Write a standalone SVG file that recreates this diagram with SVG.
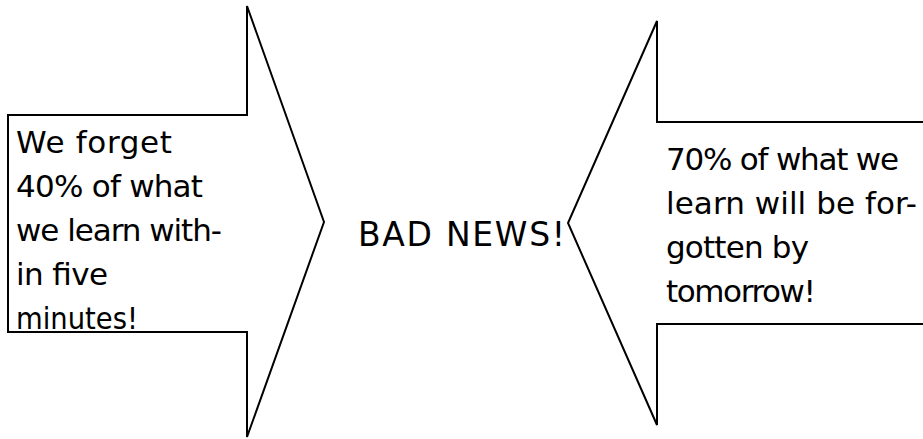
<svg xmlns="http://www.w3.org/2000/svg" width="923" height="439" viewBox="0 0 923 439">
<style>
.arrow{fill:#ffffff;stroke:#000000;stroke-width:2;stroke-linejoin:miter}
.t{font-family:"DejaVu Sans","Liberation Sans",sans-serif;font-size:31px;fill:#000000}
.big{font-size:33px}
</style>
<rect x="0" y="0" width="923" height="439" fill="#ffffff"/>
<g id="left-arrow">
<polygon class="arrow" points="8,115 247,115 247,6 324,222 247,437 247,332 8,332"/>
<text class="t" x="16" y="153" textLength="156">We forget</text>
<text class="t" x="16" y="197" textLength="187">40% of what</text>
<text class="t" x="16" y="241" textLength="206">we learn with-</text>
<text class="t" x="16" y="285" textLength="92">in five</text>
<text class="t" x="16" y="329" textLength="122" lengthAdjust="spacingAndGlyphs">minutes!</text>
</g>
<g id="right-arrow">
<polygon class="arrow" points="930,122 657,122 657,21 568,223 657,425 657,324 930,324"/>
<text class="t" x="666" y="170" textLength="233">70% of what we</text>
<text class="t" x="666" y="214" textLength="251">learn will be for-</text>
<text class="t" x="666" y="258" textLength="143">gotten by</text>
<text class="t" x="666" y="302" textLength="150">tomorrow!</text>
</g>
<g id="center-label">
<text class="t big" x="358" y="246" textLength="207">BAD NEWS!</text>
</g>
</svg>
